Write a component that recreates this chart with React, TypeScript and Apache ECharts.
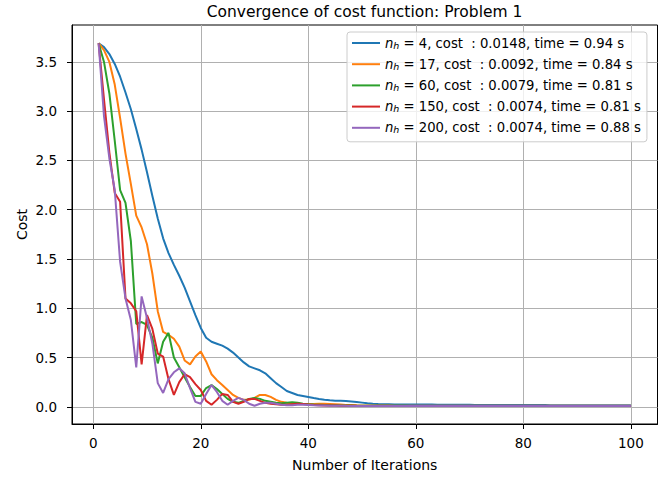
import React, { useEffect, useRef } from "react";
import * as echarts from "echarts";

// ---- data ----
const nhValues = [4, 17, 60, 150, 200];
const finalCosts = ["0.0148", "0.0092", "0.0079", "0.0074", "0.0074"];
const runTimes = ["0.94", "0.84", "0.81", "0.81", "0.88"];
const colors = ["#1f77b4", "#ff7f0e", "#2ca02c", "#d62728", "#9467bd"];

const xTicks = [0, 20, 40, 60, 80, 100];
const yTicks = [0, 0.5, 1, 1.5, 2, 2.5, 3, 3.5];
const yTickLabels = ["0.0", "0.5", "1.0", "1.5", "2.0", "2.5", "3.0", "3.5"];

const costNh4 = [
  3.69, 3.65, 3.58, 3.48, 3.35, 3.19, 3.02, 2.82, 2.61, 2.38,
  2.14, 1.91, 1.71, 1.56, 1.44, 1.33, 1.21, 1.07, 0.93, 0.8,
  0.7, 0.66, 0.64, 0.62, 0.59, 0.55, 0.5, 0.45, 0.41, 0.39,
  0.37, 0.34, 0.29, 0.24, 0.2, 0.16, 0.14, 0.12, 0.11, 0.1,
  0.088, 0.078, 0.07, 0.065, 0.062, 0.06, 0.058, 0.054, 0.048, 0.042,
  0.036, 0.031, 0.028, 0.026, 0.025, 0.024, 0.024, 0.023, 0.023, 0.023,
  0.022, 0.022, 0.022, 0.021, 0.021, 0.021, 0.02, 0.02, 0.02, 0.02,
  0.019, 0.019, 0.019, 0.019, 0.018, 0.018, 0.018, 0.018, 0.018, 0.017,
  0.017, 0.017, 0.017, 0.017, 0.016, 0.016, 0.016, 0.016, 0.016, 0.016,
  0.016, 0.015, 0.015, 0.015, 0.015, 0.015, 0.015, 0.015, 0.0148, 0.0148,
];

const costNh17 = [
  3.69, 3.62, 3.5, 3.27, 2.93, 2.57, 2.26, 1.94, 1.82, 1.65,
  1.35, 0.97, 0.76, 0.73, 0.69, 0.61, 0.47, 0.43, 0.51, 0.56,
  0.46, 0.33, 0.27, 0.22, 0.17, 0.12, 0.09, 0.07, 0.07, 0.09,
  0.12, 0.12, 0.1, 0.07, 0.05, 0.04, 0.035, 0.03, 0.028, 0.027,
  0.028, 0.03, 0.03, 0.028, 0.025, 0.022, 0.019, 0.017, 0.015, 0.014,
  0.013, 0.013, 0.012, 0.012, 0.012, 0.011, 0.011, 0.011, 0.011, 0.011,
  0.0105, 0.0105, 0.0104, 0.0103, 0.0102, 0.0101, 0.01, 0.01, 0.0099, 0.0099,
  0.0098, 0.0098, 0.0097, 0.0097, 0.0096, 0.0096, 0.0096, 0.0095, 0.0095, 0.0095,
  0.0094, 0.0094, 0.0094, 0.0094, 0.0093, 0.0093, 0.0093, 0.0093, 0.0093, 0.0093,
  0.0092, 0.0092, 0.0092, 0.0092, 0.0092, 0.0092, 0.0092, 0.0092, 0.0092, 0.0092,
];

const costNh60 = [
  3.69, 3.5, 3.18, 2.7, 2.2, 2.07, 1.68, 0.84, 0.86, 0.83,
  0.7, 0.44, 0.66, 0.75, 0.5, 0.4, 0.3, 0.2, 0.11, 0.11,
  0.19, 0.22, 0.18, 0.13, 0.08, 0.05, 0.04, 0.06, 0.08, 0.09,
  0.08, 0.06, 0.05, 0.04, 0.035, 0.04, 0.045, 0.04, 0.03, 0.025,
  0.022, 0.02, 0.018, 0.016, 0.015, 0.014, 0.013, 0.012, 0.011, 0.011,
  0.01, 0.01, 0.0098, 0.0096, 0.0094, 0.0092, 0.0091, 0.009, 0.0089, 0.0088,
  0.0087, 0.0087, 0.0086, 0.0086, 0.0085, 0.0085, 0.0084, 0.0084, 0.0083, 0.0083,
  0.0083, 0.0082, 0.0082, 0.0082, 0.0081, 0.0081, 0.0081, 0.0081, 0.008, 0.008,
  0.008, 0.008, 0.008, 0.008, 0.0079, 0.0079, 0.0079, 0.0079, 0.0079, 0.0079,
  0.0079, 0.0079, 0.0079, 0.0079, 0.0079, 0.0079, 0.0079, 0.0079, 0.0079, 0.0079,
];

const costNh150 = [
  3.69, 3.12, 2.58, 2.17, 2.08, 1.1, 1.05, 0.97, 0.43, 0.93,
  0.79, 0.54, 0.51, 0.28, 0.12, 0.25, 0.33, 0.3, 0.23, 0.17,
  0.06, 0.02, 0.07, 0.13, 0.12, 0.05, 0.03, 0.05, 0.08, 0.08,
  0.06, 0.04, 0.03, 0.025, 0.02, 0.02, 0.025, 0.03, 0.028, 0.022,
  0.018, 0.016, 0.014, 0.013, 0.012, 0.011, 0.01, 0.0095, 0.009, 0.0088,
  0.0086, 0.0085, 0.0084, 0.0083, 0.0082, 0.0081, 0.008, 0.008, 0.0079, 0.0079,
  0.0078, 0.0078, 0.0077, 0.0077, 0.0077, 0.0076, 0.0076, 0.0076, 0.0076, 0.0075,
  0.0075, 0.0075, 0.0075, 0.0075, 0.0075, 0.0075, 0.0074, 0.0074, 0.0074, 0.0074,
  0.0074, 0.0074, 0.0074, 0.0074, 0.0074, 0.0074, 0.0074, 0.0074, 0.0074, 0.0074,
  0.0074, 0.0074, 0.0074, 0.0074, 0.0074, 0.0074, 0.0074, 0.0074, 0.0074, 0.0074,
];

const costNh200 = [
  3.69, 2.95, 2.52, 2.2, 1.47, 1.1, 0.88, 0.4, 1.12, 0.9,
  0.64, 0.24, 0.14, 0.28, 0.35, 0.39, 0.34, 0.19, 0.05, 0.03,
  0.13, 0.22, 0.15, 0.06, 0.02, 0.06, 0.09, 0.07, 0.03, 0.01,
  0.03, 0.04, 0.04, 0.03, 0.02, 0.015, 0.015, 0.02, 0.02, 0.018,
  0.015, 0.013, 0.012, 0.011, 0.01, 0.0095, 0.009, 0.0088, 0.0086, 0.0085,
  0.0084, 0.0083, 0.0082, 0.0081, 0.008, 0.008, 0.0079, 0.0079, 0.0078, 0.0078,
  0.0077, 0.0077, 0.0077, 0.0076, 0.0076, 0.0076, 0.0076, 0.0075, 0.0075, 0.0075,
  0.0075, 0.0075, 0.0075, 0.0075, 0.0074, 0.0074, 0.0074, 0.0074, 0.0074, 0.0074,
  0.0074, 0.0074, 0.0074, 0.0074, 0.0074, 0.0074, 0.0074, 0.0074, 0.0074, 0.0074,
  0.0074, 0.0074, 0.0074, 0.0074, 0.0074, 0.0074, 0.0074, 0.0074, 0.0074, 0.0074,
];

const costSeries = [costNh4, costNh17, costNh60, costNh150, costNh200];

const FONT = "DejaVu Sans";

export default function App() {
  const ref = useRef<HTMLDivElement>(null);

  useEffect(() => {
    if (!ref.current) return;
    const chart = echarts.init(ref.current, undefined, { renderer: "svg" });

    const names = nhValues.map(
      (nh, i) => `n_h = ${nh}, cost  : ${finalCosts[i]}, time = ${runTimes[i]} s`
    );

    const series = costSeries.map((vals, i) => ({
      type: "line",
      name: names[i],
      data: vals.map((v, k) => [k + 1, v]),
      symbol: "none",
      showSymbol: false,
      lineStyle: { width: 2, color: colors[i] },
      itemStyle: { color: colors[i] },
      z: 2 + i,
    }));

    const option: any = {
      animation: false,
      textStyle: { fontFamily: FONT },
      grid: {
        left: 72,
        right: 12.5,
        top: 25,
        bottom: 55,
        show: true,
        borderColor: "#000",
        borderWidth: 1,
        backgroundColor: "transparent",
      },
      graphic: [
        {
          type: "text",
          x: 364.5,
          y: 12,
          style: {
            text: "Convergence of cost function: Problem 1",
            fontFamily: FONT,
            fontSize: 15.5,
            fill: "#000",
            textAlign: "center",
            textVerticalAlign: "middle",
          },
        },
      ],
      xAxis: {
        type: "value",
        min: -3.95,
        max: 104.95,
        name: "Number of Iterations",
        nameLocation: "middle",
        nameGap: 34,
        nameMoveOverlap: false,
        nameTextStyle: { fontSize: 14, color: "#000", fontFamily: FONT },
        axisLine: { show: true, onZero: false, lineStyle: { color: "#000", width: 1 } },
        axisTick: { show: true, customValues: xTicks, length: 5, lineStyle: { color: "#000" } },
        axisLabel: {
          customValues: xTicks,
          fontSize: 13.5,
          color: "#000",
          margin: 12,
          fontFamily: FONT,
        },
        splitLine: { show: true, lineStyle: { color: "#b0b0b0", width: 1 } },
      },
      yAxis: {
        type: "value",
        min: -0.175,
        max: 3.875,
        name: "Cost",
        nameLocation: "middle",
        nameGap: 43,
        nameMoveOverlap: false,
        nameTextStyle: { fontSize: 14, color: "#000", fontFamily: FONT },
        axisLine: { show: true, onZero: false, lineStyle: { color: "#000", width: 1 } },
        axisTick: { show: true, customValues: yTicks, length: 5, lineStyle: { color: "#000" } },
        axisLabel: {
          customValues: yTicks,
          fontSize: 13.5,
          color: "#000",
          margin: 15,
          fontFamily: FONT,
          formatter: (v: number) => {
            const idx = yTicks.findIndex((t) => Math.abs(t - v) < 1e-6);
            return idx >= 0 ? yTickLabels[idx] : "";
          },
        },
        splitLine: { show: true, lineStyle: { color: "#b0b0b0", width: 1 } },
      },
      legend: {
        orient: "vertical",
        left: 347,
        top: 32,
        padding: [3, 6, 6, 5],
        itemGap: 5.2,
        itemWidth: 28,
        itemHeight: 2,
        icon: "rect",
        backgroundColor: "rgba(255,255,255,0.8)",
        borderColor: "#cccccc",
        borderWidth: 1,
        borderRadius: 3,
        data: names,
        formatter: (name: string) => {
          const i = names.indexOf(name);
          return `{n|n}{h|h}{t| = ${nhValues[i]}, cost  : ${finalCosts[i]}, time = ${runTimes[i]} s}`;
        },
        textStyle: {
          fontFamily: FONT,
          fontSize: 13.2,
          color: "#000",
          lineHeight: 16,
          rich: {
            n: { fontFamily: FONT, fontSize: 13.2, fontStyle: "italic", color: "#000", lineHeight: 16 },
            h: {
              fontFamily: FONT,
              fontSize: 9.5,
              fontStyle: "italic",
              color: "#000",
              lineHeight: 12,
              padding: [4, 0, 0, 0],
            },
            t: { fontFamily: FONT, fontSize: 13.2, color: "#000", lineHeight: 16 },
          },
        },
      },
      series,
    };

    chart.setOption(option);
    return () => chart.dispose();
  }, []);

  return (
    <div
      ref={ref}
      style={{ position: "absolute", left: 0, top: 0, width: 670, height: 479 }}
    />
  );
}
